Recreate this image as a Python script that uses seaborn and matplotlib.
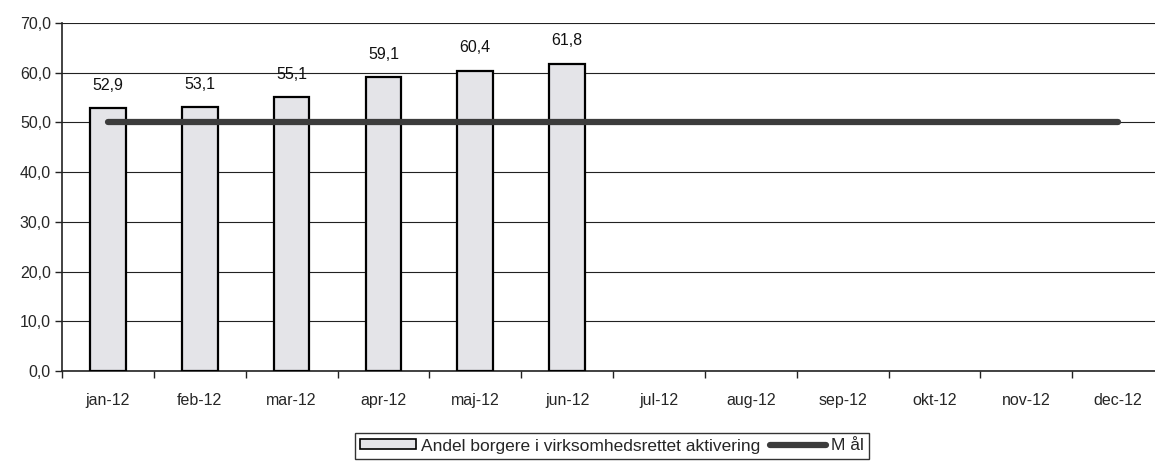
import numpy as np
import pandas as pd
import matplotlib
matplotlib.use("Agg")
import matplotlib.pyplot as plt
import seaborn as sns
from matplotlib.patches import Patch
from matplotlib.lines import Line2D

months = ["jan-12", "feb-12", "mar-12", "apr-12", "maj-12", "jun-12",
          "jul-12", "aug-12", "sep-12", "okt-12", "nov-12", "dec-12"]
andel = [52.9, 53.1, 55.1, 59.1, 60.4, 61.8,
         np.nan, np.nan, np.nan, np.nan, np.nan, np.nan]
maal = [50.0] * 12

BAR_LABEL = "Andel borgere i virksomhedsrettet aktivering"
LINE_LABEL = "M ål"


def fmt(v):
    return f"{v:.1f}".replace(".", ",")


def main():
    sns.set_theme(style="white")
    plt.rcParams["font.family"] = ["Liberation Sans", "DejaVu Sans"]

    df = pd.DataFrame({"month": months, "andel": andel})

    fig = plt.figure(figsize=(11.55, 4.63), dpi=100)
    ax = fig.add_axes([62 / 1155, 1 - 371 / 463, (1164 - 62) / 1155, (371 - 23) / 463])

    sns.barplot(data=df, x="month", y="andel", order=months, ax=ax,
                color="#e4e4e8", edgecolor="black", linewidth=1.6,
                width=0.39, saturation=1, errorbar=None, zorder=3)

    ax.plot(range(len(months)), maal, color="#3c3c3c", lw=4.5,
            solid_capstyle="round", zorder=4)

    for c in ax.containers:
        labels = [fmt(v) if not np.isnan(v) else "" for v in c.datavalues]
        ax.bar_label(c, labels=labels, padding=11, fontsize=11.5, color="#111111")

    ax.set_ylim(0, 70)
    ax.set_xlim(-0.5, len(months) - 0.5)
    ax.set_yticks(np.arange(0, 71, 10))
    ax.set_yticklabels([fmt(v) for v in np.arange(0, 71, 10)], fontsize=11.5)
    ax.yaxis.grid(True, color="#222222", lw=0.8)
    ax.set_axisbelow(True)
    ax.set_xlabel("")
    ax.set_ylabel("")
    ax.tick_params(axis="x", labelsize=11.5, length=0, pad=16)
    ax.tick_params(axis="y", length=5, width=1, direction="out", left=True,
                   color="#222222", pad=3)
    ax.set_xticks(np.arange(-0.5, len(months), 1), minor=True)
    ax.tick_params(axis="x", which="minor", length=5, width=1, direction="out",
                   bottom=True, color="#222222")

    for side in ["top", "right"]:
        ax.spines[side].set_visible(False)
    for side in ["left", "bottom"]:
        ax.spines[side].set_color("#222222")
        ax.spines[side].set_linewidth(1.2)

    handles = [Patch(facecolor="#e4e4e8", edgecolor="black", linewidth=1.2),
               Line2D([0], [0], color="#3c3c3c", lw=4.5)]
    leg = fig.legend(handles, [BAR_LABEL, LINE_LABEL], loc="center",
                     bbox_to_anchor=(612 / 1155, 1 - 446 / 463), ncol=2,
                     frameon=True, fancybox=False, fontsize=12.5,
                     handlelength=3.2, handleheight=0.5, handletextpad=0.3,
                     columnspacing=0.6, borderpad=0.3)
    leg.get_frame().set_edgecolor("black")
    leg.get_frame().set_linewidth(1.0)

    fig.savefig("out.png", dpi=100)


if __name__ == "__main__":
    main()
